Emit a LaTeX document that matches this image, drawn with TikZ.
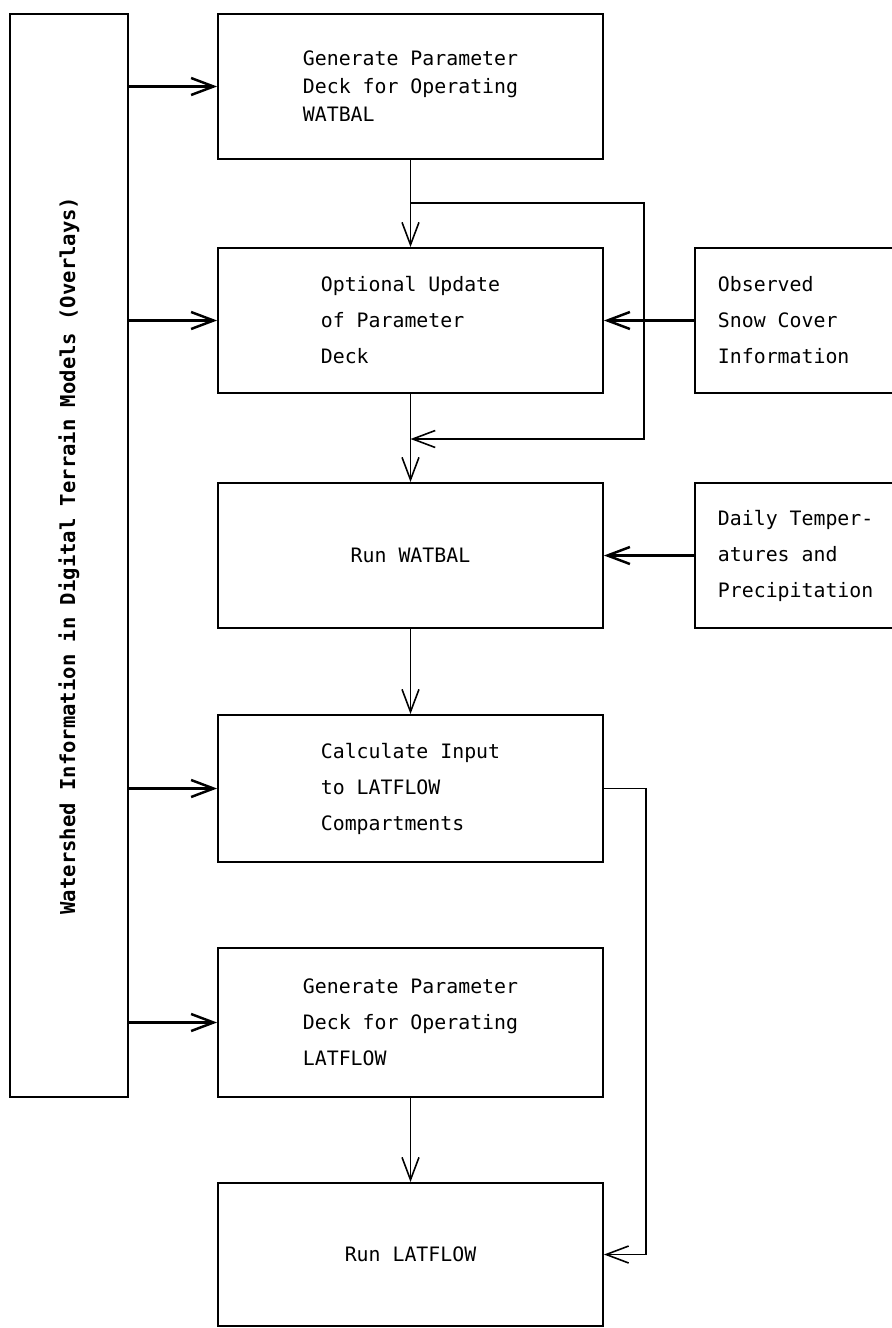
\documentclass[tikz,border=0pt]{standalone}
\usepackage{fontspec}
\setmonofont{DejaVu Sans Mono}
\usepackage{tikz}
\usetikzlibrary{arrows.meta,positioning}

\begin{document}
\begin{tikzpicture}[x=0.02cm,y=-0.02cm,
  proc/.style={draw, line width=1.1pt, minimum width=7.7cm, minimum height=2.9cm,
               align=left, inner sep=0pt, font=\ttfamily\fontsize{11.3}{20.5}\selectfont},
  src/.style={draw, line width=1.1pt, text width=4cm, inner xsep=0.46cm, inner ysep=0pt,
              minimum height=2.9cm, align=left, anchor=west,
              font=\ttfamily\fontsize{11.3}{20.5}\selectfont,
              execute at begin node={\spaceskip=0.602em\relax}},
  side/.style={draw, line width=1.1pt, rotate=90, minimum width=21.66cm, minimum height=2.36cm,
               inner sep=0pt, font=\ttfamily\bfseries\fontsize{11.7}{14}\selectfont},
  arr/.style={-{Straight Barb[length=4.5mm,width=3.4mm]}, line width=0.9pt},
  feed/.style={arr, line width=1.4pt}
]
\useasboundingbox (0,0) rectangle (892,1328);
\clip (0,0) rectangle (892,1328);

% left column
\node[side] (wsi) at (69,555.5) {Watershed Information in Digital Terrain Models (Overlays)};

% main chain
\node[proc, font=\ttfamily\fontsize{11.3}{16}\selectfont] (genwat) at (410.5,86.5) {Generate Parameter\\Deck for Operating\\WATBAL};
\node[proc] (update) at (410.5,320.5) {Optional Update\\of Parameter\\Deck};
\node[proc] (runwat) at (410.5,555.5) {Run WATBAL};
\node[proc, minimum height=2.94cm] (calc)   at (410.5,788.5)  {Calculate Input\\to LATFLOW\\Compartments};
\node[proc, minimum height=2.98cm] (genlat) at (410.5,1022.5) {Generate Parameter\\Deck for Operating\\LATFLOW};
\node[proc, minimum height=2.86cm] (runlat) at (410.5,1254.5) {Run LATFLOW};

% outside data, cut off by the right edge
\node[src] (obs)   at (694,320.5) {Observed\\Snow Cover\\Information};
\node[src] (daily) at (694,555.5) {Daily Temper-\\atures and\\Precipitation};

\coordinate (split)    at (410.5,203);
\coordinate (merge)    at (410.5,439);
\coordinate (bypass)   at (644,0);
\coordinate (loopback) at (646,0);

\foreach \b in {genwat,update,calc,genlat}
  \draw[feed] (wsi.south |- \b) -- (\b);

\draw[arr] (genwat) -- (update);
\draw[arr] (split) -- (bypass |- split) -- (bypass |- merge) -- (merge);
\draw[arr] (update) -- (runwat);
\draw[feed] (obs) -- (update);
\draw[feed] (daily) -- (runwat);
\draw[arr] (runwat) -- (calc);
\draw[arr] (genlat) -- (runlat);
\draw[arr] (calc.east) -| (loopback |- runlat) -- (runlat);
\end{tikzpicture}
\end{document}
